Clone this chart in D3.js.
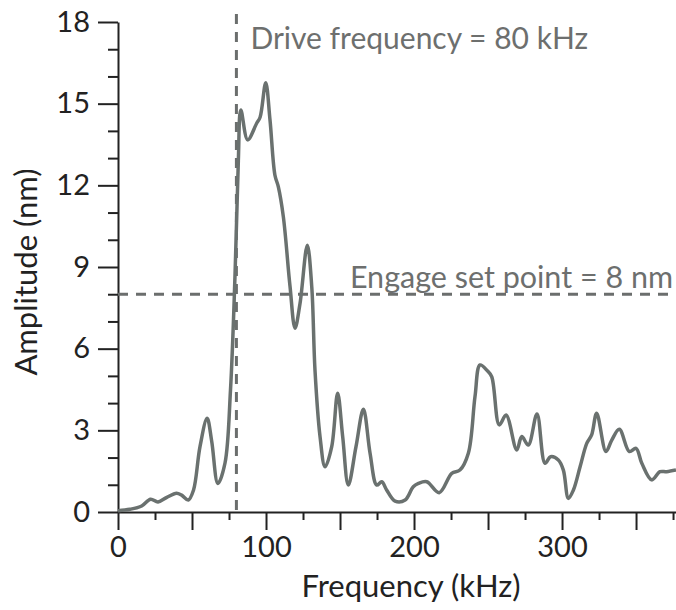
<!DOCTYPE html>
<html>
<head>
<meta charset="utf-8">
<script src="https://cdn.jsdelivr.net/npm/d3@7"></script>
<style>
  body { margin: 0; background: #fff; }
  svg { display: block; }
  .axis path, .axis line { stroke: #222; stroke-width: 2; }
  .axis text { font-family: Lato, sans-serif; font-size: 29px; fill: #222; }
</style>
</head>
<body>
<svg id="chart" width="676" height="610"></svg>
<script>
// frequency (kHz) and amplitude (nm)
const freq = [0, 8, 16, 22, 27, 33, 39.5, 43, 47.5, 51, 55.4, 60.2, 63.3, 67.5, 72.3, 76,
  79, 81.3, 83, 87.6, 93.7, 96, 99.8, 102.7, 106, 108.3, 111.7, 116.2, 119.6, 123, 127.9,
  130.9, 133.1, 136.5, 139.9, 144.4, 148.4, 151.8, 155.6, 160.8, 165.8, 170.3, 174.8,
  178.2, 181.5, 187.2, 194, 199.5, 203, 208.6, 217, 225.5, 231, 236.7, 241.2, 244.6,
  249.5, 252.5, 257.6, 262.2, 269.4, 272.8, 277.2, 283.1, 288.5, 292.3, 297.5, 300.9,
  304.3, 307.7, 312.2, 316.7, 320, 323.4, 329.7, 333.6, 338.7, 345.5, 350, 353.9, 360.6,
  366.2, 370.7, 377];
const amp = [0.05, 0.1, 0.22, 0.47, 0.37, 0.54, 0.69, 0.62, 0.44, 0.8, 2.4, 3.44, 2.6, 1.05, 1.8, 4.48,
  8.6, 12.9, 14.77, 13.67, 14.28, 14.5, 15.77, 14.4, 12.38, 11.95, 10.85, 8.3, 6.75, 7.67, 9.8,
  8.28, 5.2, 2.77, 1.66, 2.4, 4.36, 2.77, 0.99, 2.4, 3.77, 2.16, 0.99,
  1.11, 0.81, 0.4, 0.44, 0.93, 1.05, 1.11, 0.71, 1.42, 1.54, 2.16, 4.24, 5.4,
  5.19, 4.97, 3.2, 3.56, 2.28, 2.77, 2.46, 3.6, 1.79, 2.03, 1.91, 1.54,
  0.5, 0.81, 1.66, 2.52, 2.83, 3.63, 2.22, 2.64, 3.04, 2.22, 2.34, 1.79, 1.18,
  1.48, 1.48, 1.54];

const xMajor = [0, 50, 100, 150, 200, 250, 300, 350];
const xMinor = [25, 75, 125, 175, 225, 275, 325, 375];
const yMajor = [0, 3, 6, 9, 12, 15, 18];
const yMinor = [1, 2, 4, 5, 7, 8, 10, 11, 13, 14, 16, 17];

const driveFreq = 80;
const setPoint = 8;

const margin = {left: 118, right: 0, top: 22, bottom: 98};
const width = 676, height = 610;

const svg = d3.select('#chart');

const x = d3.scaleLinear().domain([0, 377]).range([margin.left, width - margin.right]);
const y = d3.scaleLinear().domain([0, 18]).range([height - margin.bottom, margin.top]);

// y axis
svg.append('g').attr('class', 'axis')
  .attr('transform', `translate(${margin.left},0)`)
  .call(d3.axisLeft(y).tickValues(yMinor).tickSize(10).tickSizeOuter(0).tickFormat(''))
  .select('.domain').remove();
svg.append('g').attr('class', 'axis')
  .attr('transform', `translate(${margin.left},0)`)
  .call(d3.axisLeft(y).tickValues(yMajor).tickSize(20).tickSizeOuter(0).tickPadding(8));

// x axis
svg.append('g').attr('class', 'axis')
  .attr('transform', `translate(0,${y(0)})`)
  .call(d3.axisBottom(x).tickValues(xMinor).tickSize(8).tickSizeOuter(0).tickFormat(''))
  .select('.domain').remove();
svg.append('g').attr('class', 'axis')
  .attr('transform', `translate(0,${y(0)})`)
  .call(d3.axisBottom(x).tickValues(xMajor).tickSize(18).tickSizeOuter(0).tickPadding(6)
    .tickFormat(d => d % 100 === 0 ? d : ''));

// reference lines
svg.append('line')
  .attr('x1', x(driveFreq)).attr('x2', x(driveFreq))
  .attr('y1', y(18) - 8).attr('y2', y(0))
  .attr('stroke', '#6b6e6d').attr('stroke-width', 3)
  .attr('stroke-dasharray', '10,8');

svg.append('line')
  .attr('x1', x(0)).attr('x2', x(377))
  .attr('y1', y(setPoint)).attr('y2', y(setPoint))
  .attr('stroke', '#6b6e6d').attr('stroke-width', 3)
  .attr('stroke-dasharray', '10,8');

// spectrum
const line = d3.line()
  .x((d, i) => x(freq[i]))
  .y(d => y(d))
  .curve(d3.curveCatmullRom.alpha(0.5));

svg.append('path')
  .datum(amp)
  .attr('d', line)
  .attr('fill', 'none')
  .attr('stroke', '#6a716f')
  .attr('stroke-width', 3.5)
  .attr('stroke-linejoin', 'round');

// annotations
svg.append('text')
  .attr('x', x(driveFreq) + 14).attr('y', 49)
  .attr('font-family', 'Lato, sans-serif').attr('font-size', '30px')
  .attr('fill', '#6d6f6e')
  .text('Drive frequency = 80 kHz');

svg.append('text')
  .attr('x', 673).attr('y', y(setPoint) - 6)
  .attr('text-anchor', 'end')
  .attr('font-family', 'Lato, sans-serif').attr('font-size', '30.5px')
  .attr('fill', '#6d6f6e')
  .text('Engage set point = 8 nm');

// axis titles
svg.append('text')
  .attr('transform', `translate(37,${(y(0) + y(18)) / 2 + 5}) rotate(-90)`)
  .attr('text-anchor', 'middle')
  .attr('font-family', 'Lato, sans-serif').attr('font-size', '31px')
  .attr('fill', '#222')
  .text('Amplitude (nm)');

svg.append('text')
  .attr('x', 411).attr('y', 597)
  .attr('text-anchor', 'middle')
  .attr('font-family', 'Lato, sans-serif').attr('font-size', '31px')
  .attr('fill', '#222')
  .text('Frequency (kHz)');
</script>
</body>
</html>
